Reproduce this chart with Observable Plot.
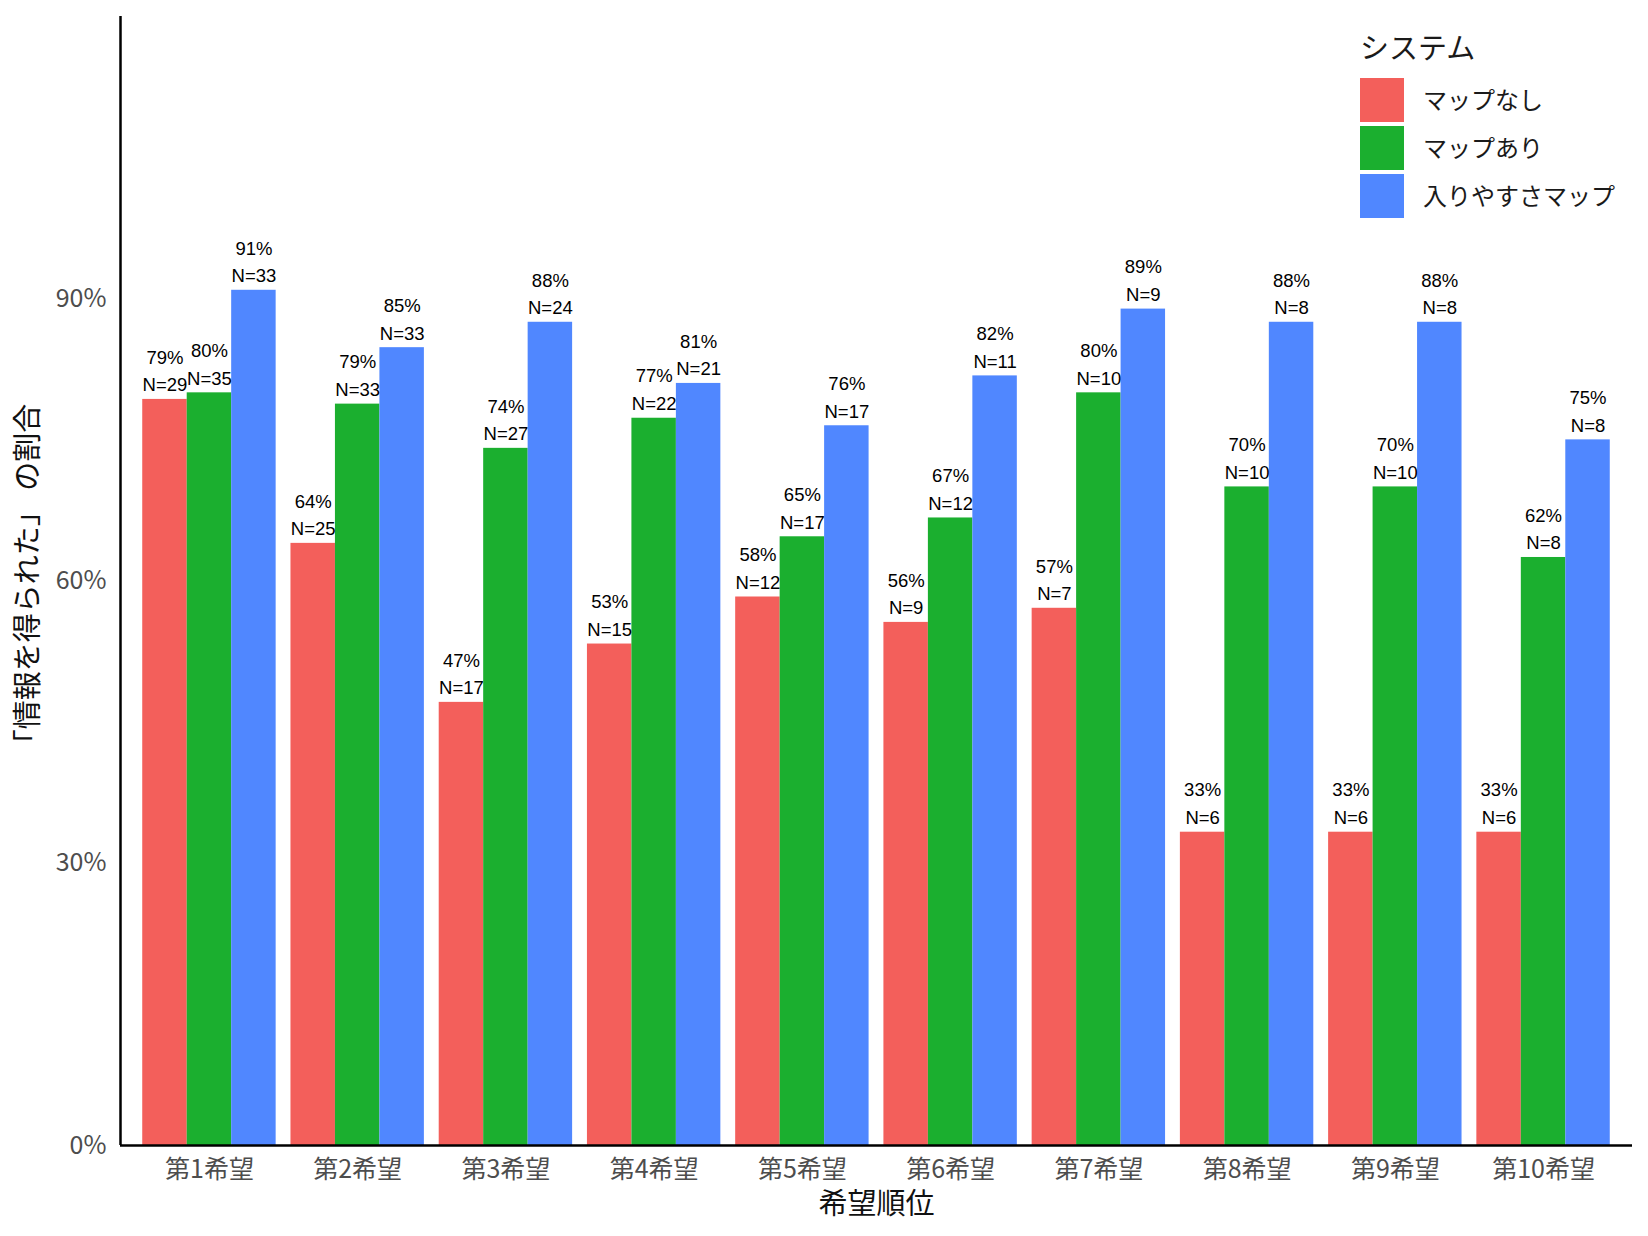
<!DOCTYPE html>
<html>
<head>
<meta charset="utf-8">
<script src="https://cdn.jsdelivr.net/npm/d3@7"></script>
<script src="https://cdn.jsdelivr.net/npm/@observablehq/plot@0.6"></script>
<style>
  html, body { margin: 0; padding: 0; background: #fff; }
  #wrap { position: relative; width: 1648px; height: 1236px; overflow: hidden; }
  #legend { position: absolute; left: 1360px; top: 26px; font-family: "Noto Sans CJK JP", sans-serif; color: #1a1a1a; }
  #legend .title { font-size: 29px; line-height: 40px; height: 40px; margin-bottom: 10px; }
  #legend .item { display: flex; align-items: center; height: 48px; }
  #legend .key { width: 44px; height: 44px; margin-right: 19px; }
  #legend .lab { font-size: 24px; margin-top: -3px; }
</style>
</head>
<body>
<div id="wrap">
  <div id="chart"></div>
  <div id="legend"></div>
</div>
<script>
// ---- data ----
const categories = ["第1希望", "第2希望", "第3希望", "第4希望", "第5希望", "第6希望", "第7希望", "第8希望", "第9希望", "第10希望"];
const systems = ["マップなし", "マップあり", "入りやすさマップ"];
const colors = ["#F35F5B", "#1BAF2F", "#5087FF"];

const valNoMap   = [0.793, 0.640, 0.471, 0.533, 0.583, 0.556, 0.571, 0.333, 0.333, 0.333];
const valWithMap = [0.800, 0.788, 0.741, 0.773, 0.647, 0.667, 0.800, 0.700, 0.700, 0.625];
const valEasyMap = [0.909, 0.848, 0.875, 0.810, 0.765, 0.818, 0.889, 0.875, 0.875, 0.750];

const pctNoMap   = ["79%", "64%", "47%", "53%", "58%", "56%", "57%", "33%", "33%", "33%"];
const pctWithMap = ["80%", "79%", "74%", "77%", "65%", "67%", "80%", "70%", "70%", "62%"];
const pctEasyMap = ["91%", "85%", "88%", "81%", "76%", "82%", "89%", "88%", "88%", "75%"];

const nNoMap   = [29, 25, 17, 15, 12, 9, 7, 6, 6, 6];
const nWithMap = [35, 33, 27, 22, 17, 12, 10, 10, 10, 8];
const nEasyMap = [33, 33, 24, 21, 17, 11, 9, 8, 8, 8];

const yTicks = [0, 0.3, 0.6, 0.9];
const xTitle = "希望順位";
const yTitle = "「情報を得られた」 の割合";
const legendTitle = "システム";

// ---- build table ----
const series = [
  {values: valNoMap, pcts: pctNoMap, ns: nNoMap},
  {values: valWithMap, pcts: pctWithMap, ns: nWithMap},
  {values: valEasyMap, pcts: pctEasyMap, ns: nEasyMap}
];
const groupWidth = 0.9;
const barW = groupWidth / systems.length;
const data = [];
categories.forEach((cat, i) => {
  series.forEach((s, j) => {
    const x1 = i - groupWidth / 2 + j * barW;
    data.push({cat, sys: systems[j], x1, x2: x1 + barW, xc: x1 + barW / 2,
               value: s.values[i], label: `${s.pcts[i]}\nN=${s.ns[i]}`});
  });
});

const xMin = -0.6, xMax = categories.length - 1 + 0.6;

const chart = Plot.plot({
  width: 1648,
  height: 1236,
  marginLeft: 120,
  marginRight: 16,
  marginTop: 16,
  marginBottom: 91,
  style: {fontFamily: "'Noto Sans CJK JP', sans-serif", fontSize: "25px", color: "#4d4d4d", background: "white"},
  x: {domain: [xMin, xMax], ticks: d3.range(categories.length), tickFormat: i => categories[i],
      tickSize: 0, tickPadding: 15, label: null},
  y: {domain: [0, 1.2], ticks: yTicks, tickFormat: d3.format(".0%"), tickSize: 0, tickPadding: 14, label: null},
  color: {domain: systems, range: colors},
  marks: [
    Plot.rectY(data, {x1: "x1", x2: "x2", y: "value", fill: "sys"}),
    Plot.text(data, {x: "xc", y: "value", text: "label", lineAnchor: "bottom", dy: -8,
                     lineHeight: 1.5, fontSize: 18.5, fill: "black",
                     fontFamily: "'Liberation Sans', Arial, sans-serif"}),
    Plot.ruleY([0], {stroke: "black", strokeWidth: 2.5}),
    Plot.ruleX([xMin], {stroke: "black", strokeWidth: 2.5}),
    Plot.text([xTitle], {frameAnchor: "bottom", dy: 68, fontSize: 29, fill: "#111"}),
    Plot.text([yTitle], {frameAnchor: "left", textAnchor: "middle", dx: -92, rotate: -90, fontSize: 29, fill: "#111"})
  ]
});
document.getElementById("chart").appendChild(chart);

// ---- legend ----
const legend = document.getElementById("legend");
const t = document.createElement("div");
t.className = "title";
t.textContent = legendTitle;
legend.appendChild(t);
systems.forEach((s, j) => {
  const item = document.createElement("div");
  item.className = "item";
  const key = document.createElement("div");
  key.className = "key";
  key.style.background = colors[j];
  const lab = document.createElement("div");
  lab.className = "lab";
  lab.textContent = s;
  item.appendChild(key);
  item.appendChild(lab);
  legend.appendChild(item);
});
</script>
</body>
</html>
